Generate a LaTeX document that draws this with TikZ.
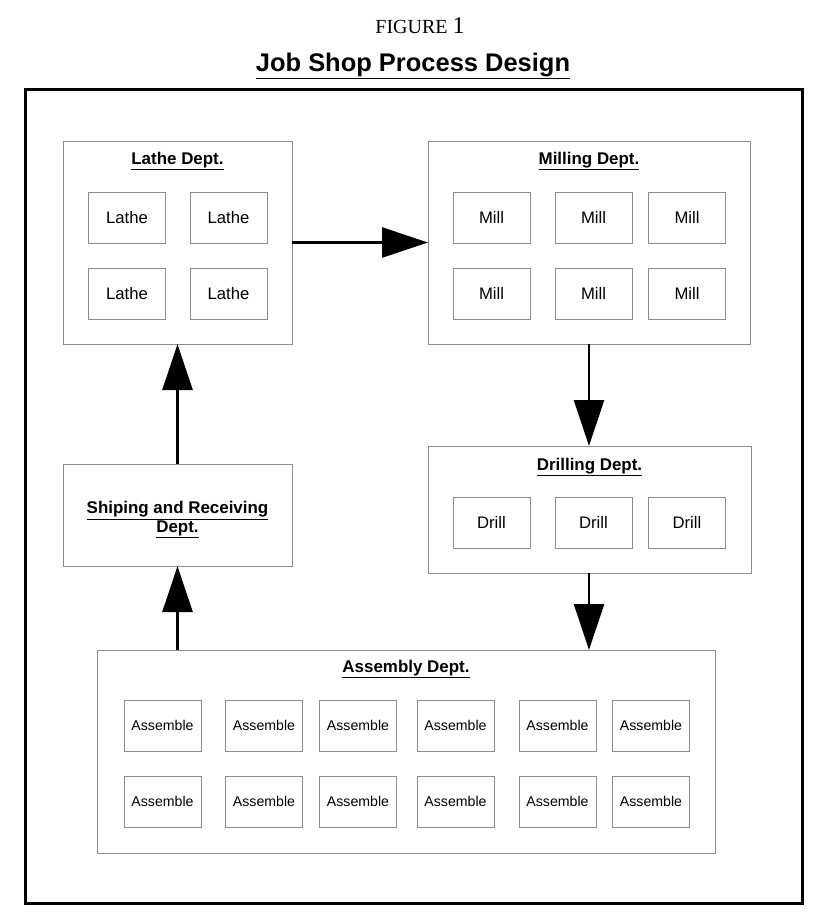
\documentclass[tikz,border=0pt]{standalone}
\usepackage{fontspec}
\setmainfont{Liberation Sans}
\newfontfamily\figserif{Liberation Serif}
\usetikzlibrary{arrows.meta}
\tikzset{
  dept/.style={draw=black!45, line width=0.75pt, rectangle, inner sep=0pt, outer sep=0pt},
  unit/.style={draw=black!45, line width=0.75pt, rectangle, inner sep=0pt, outer sep=0pt,
    minimum width=57.75pt, minimum height=38.25pt, font=\fontsize{12.5}{15}\selectfont},
  asmunit/.style={unit, font=\fontsize{10.6}{13}\selectfont},
  depttitle/.style={inner sep=0.75pt, font=\fontsize{12.7}{15}\selectfont\bfseries, align=center},
  flow/.style={line width=1.9pt, -{Triangle[length=34.5pt,width=22.5pt]}}
}
\begin{document}
\begin{tikzpicture}[x=0.75pt,y=0.75pt,yscale=-1]
\useasboundingbox (0,0) rectangle (834,924);
% Text Node
\node[inner sep=0.75pt] (fig) at (420,26) {\figserif\fontsize{15}{17}\selectfont FIGURE \fontsize{18}{20}\selectfont 1};
% Text Node
\node[inner sep=0.75pt] (title) at (413,66) {\fontsize{19.1}{23}\selectfont\bfseries\underline{Job Shop Process Design}};
%Shape: Rectangle (frame)
\draw[line width=2.25pt] (25,90) rectangle (802,903);

%Shape: Rectangle (departments)
\node[dept, minimum width=171.75pt, minimum height=152.25pt] (lathe) at (177.5,242.5) {};
\node[dept, minimum width=241.5pt, minimum height=152.25pt] (milling) at (589,242.5) {};
\node[dept, minimum width=242.25pt, minimum height=95.25pt] (drilling) at (589.5,509.5) {};
\node[dept, minimum width=171.75pt, minimum height=76.5pt] (shipping) at (177.5,515) {};
\node[dept, minimum width=463.5pt, minimum height=152.25pt] (assembly) at (406,751.5) {};

% Text Node (department titles)
\node[depttitle] (lathetitle) at (177.5,161) {\underline{Lathe Dept.}};
\node[depttitle] (milltitle) at (589,161) {\underline{Milling Dept.}};
\node[depttitle] (drilltitle) at (589.5,467) {\underline{Drilling Dept.}};
\node[depttitle] (shiptitle) at (177.5,520) {\underline{Shiping and Receiving}\\[-1pt]\underline{Dept.}};
\node[depttitle] (asmtitle) at (406,669) {\underline{Assembly Dept.}};

%Shape: Rectangle (machines)
\foreach \y [count=\r] in {217.5,293.5}{
  \foreach \x [count=\c] in {127,228.5}
    \node[unit] (lathe\r\c) at (\x,\y) {Lathe};
  \foreach \x [count=\c] in {491.5,593.5,687}
    \node[unit] (mill\r\c) at (\x,\y) {Mill};
}
\foreach \x [count=\c] in {491.5,593.5,687}
  \node[unit] (drill\c) at (\x,522.5) {Drill};
\foreach \y [count=\r] in {725.5,801.5}
  \foreach \x [count=\c] in {162.5,264,358,455.5,557.5,651}
    \node[asmunit] (asm\r\c) at (\x,\y) {Assemble};

%Straight Lines (flow)
\draw[flow] (lathe.east) -- (milling.west);
\draw[flow] (milling.south) -- (drilling.north -| milling.south);
\draw[flow] (drilling.south -| milling.south) -- (assembly.north -| milling.south);
\draw[flow] (assembly.north -| shipping.south) -- (shipping.south);
\draw[flow] (shipping.north) -- (lathe.south);
\end{tikzpicture}
\end{document}
